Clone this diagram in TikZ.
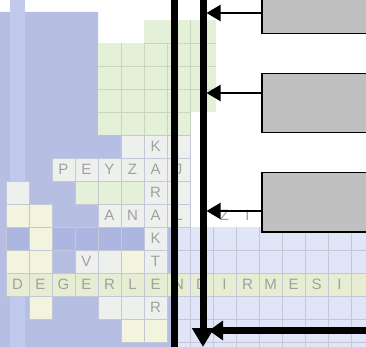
\documentclass[tikz,border=0pt]{standalone}
\usepackage{fontspec}
\setsansfont{Liberation Sans}
\usetikzlibrary{arrows.meta}
\definecolor{lav}{HTML}{B6BEE3}
\definecolor{lavd}{HTML}{ACB6E0}
\definecolor{stripc}{HTML}{C0CAEC}
\definecolor{grn}{HTML}{E4F0D8}
\definecolor{lyel}{HTML}{F3F4DE}
\definecolor{wcell}{HTML}{EEF0EE}
\definecolor{drow}{HTML}{E6EDD3}
\definecolor{lblue}{HTML}{E0E6F7}
\definecolor{gridc}{HTML}{C4C8D6}
\definecolor{ggrid}{HTML}{C8D6C0}
\definecolor{letc}{HTML}{A0A0A0}
\definecolor{boxg}{HTML}{C0C0C0}
\newcommand\cellfill[3]{\fill[#3,draw=gridc,line width=0.6pt] ({6+23*#1},{20+23*#2}) rectangle ++(23,23);}
\newcommand\ltr[3]{\node[lettr] (l#1x#2) at ({17.5+23*#1},{31.5+23*#2}) {#3};}
\tikzset{
  lettr/.style={text=letc,font=\sffamily\fontsize{15}{15}\selectfont,inner sep=0pt},
  gbox/.style={draw=black,fill=boxg,line width=1.5pt,anchor=north west,minimum width=130pt,inner sep=0pt},
  bigline/.style={line width=7pt},
  thinarr/.style={line width=2pt,-{Triangle[width=16pt,length=14pt]}}
}
\begin{document}
\begin{tikzpicture}[x=1pt,y=-1pt]
\useasboundingbox (0,0) rectangle (366,347);
\clip (0,0) rectangle (366,347);
\fill[white] (0,0) rectangle (366,347);
% lavender background
\fill[lav] (0,12) -- (98,12) -- (98,135) -- (171,135) -- (171,347) -- (0,347) -- cycle;
\fill[stripc] (10,0) rectangle (25,347);
% green block
\fill[grn] (98,43) rectangle (190,135);
\fill[grn] (144,20) rectangle (216,112);
\foreach \x in {121,144,167,190} \draw[ggrid,line width=0.6pt] (\x,43) -- (\x,135);
\foreach \y in {66,89,112} \draw[ggrid,line width=0.6pt] (98,\y) -- (190,\y);
\draw[ggrid,line width=0.6pt] (144,43) -- (216,43);
\draw[ggrid,line width=0.6pt] (190,20) -- (190,112);
\draw[ggrid,line width=0.6pt] (190,66) -- (216,66);
\draw[ggrid,line width=0.6pt] (190,89) -- (216,89);
% right blue region
\fill[lblue] (178,227) rectangle (366,347);
\fill[drow] (178,273) rectangle (366,296);
\foreach \x in {190,213,236,259,282,305,328,351} \draw[gridc,line width=0.6pt] (\x,227) -- (\x,347);
\foreach \y in {250,273,296,319,342} \draw[gridc,line width=0.6pt] (178,\y) -- (366,\y);
% cells
\cellfill{5}{5}{wcell}\cellfill{6}{5}{wcell}\cellfill{7}{5}{wcell}
\foreach \c in {2,...,7} {\cellfill{\c}{6}{wcell}}
\cellfill{0}{7}{wcell}\cellfill{3}{7}{grn}\cellfill{4}{7}{grn}\cellfill{5}{7}{grn}\cellfill{6}{7}{wcell}\cellfill{7}{7}{wcell}
\cellfill{0}{8}{lyel}\cellfill{1}{8}{lyel}\foreach \c in {4,...,7} {\cellfill{\c}{8}{wcell}}
\cellfill{0}{9}{lavd}\cellfill{1}{9}{lyel}\foreach \c in {2,...,5} {\cellfill{\c}{9}{lavd}}\cellfill{6}{9}{wcell}
\cellfill{0}{10}{lyel}\cellfill{1}{10}{lyel}\cellfill{3}{10}{wcell}\cellfill{4}{10}{wcell}\cellfill{5}{10}{lyel}\cellfill{6}{10}{wcell}
\foreach \c in {0,...,7} {\cellfill{\c}{11}{drow}}
\cellfill{1}{12}{lyel}\cellfill{4}{12}{wcell}\cellfill{5}{12}{wcell}\cellfill{6}{12}{wcell}
\cellfill{5}{13}{lyel}\cellfill{6}{13}{lyel}
% letters
\ltr{6}{5}{K}
\ltr{2}{6}{P}\ltr{3}{6}{E}\ltr{4}{6}{Y}\ltr{5}{6}{Z}\ltr{6}{6}{A}\ltr{7}{6}{J}
\ltr{6}{7}{R}
\ltr{4}{8}{A}\ltr{5}{8}{N}\ltr{6}{8}{A}\ltr{7}{8}{L}\ltr{8}{8}{I}\ltr{9}{8}{Z}\ltr{10}{8}{I}
\ltr{6}{9}{K}
\ltr{3}{10}{V}\ltr{6}{10}{T}
\ltr{0}{11}{D}\ltr{1}{11}{E}\ltr{2}{11}{G}\ltr{3}{11}{E}\ltr{4}{11}{R}\ltr{5}{11}{L}\ltr{6}{11}{E}\ltr{7}{11}{N}
\ltr{8}{11}{D}\ltr{9}{11}{I}\ltr{10}{11}{R}\ltr{11}{11}{M}\ltr{12}{11}{E}\ltr{13}{11}{S}\ltr{14}{11}{I}
\ltr{6}{12}{R}
% boxes
\node[gbox,minimum height=40pt] (b1) at (261,-7) {};
\node[gbox,minimum height=59pt] (b2) at (261,73) {};
\node[gbox,minimum height=59pt] (b3) at (261,172) {};
% main lines
\coordinate (v1a) at (174.5,-5);
\coordinate (v1b) at (174.5,352);
\coordinate (v2a) at (203,-5);
\coordinate (v2b) at (203,347);
\coordinate (h1a) at (370,330.5);
\coordinate (h1b) at (209,330.5);
\draw[bigline] (v1a) -- (v1b);
\draw[bigline,-{Triangle[width=21pt,length=19pt]}] (v2a) -- (v2b);
\draw[bigline,-{Triangle[width=19pt,length=14pt]}] (h1a) -- (h1b);
% arrows from boxes
\coordinate (p1) at (206.5,13);
\coordinate (p2) at (206.5,93);
\coordinate (p3) at (206.5,211);
\draw[thinarr] (b1.west |- p1) -- (p1);
\draw[thinarr] (b2.west |- p2) -- (p2);
\draw[thinarr] (b3.west |- p3) -- (p3);
\end{tikzpicture}
\end{document}
